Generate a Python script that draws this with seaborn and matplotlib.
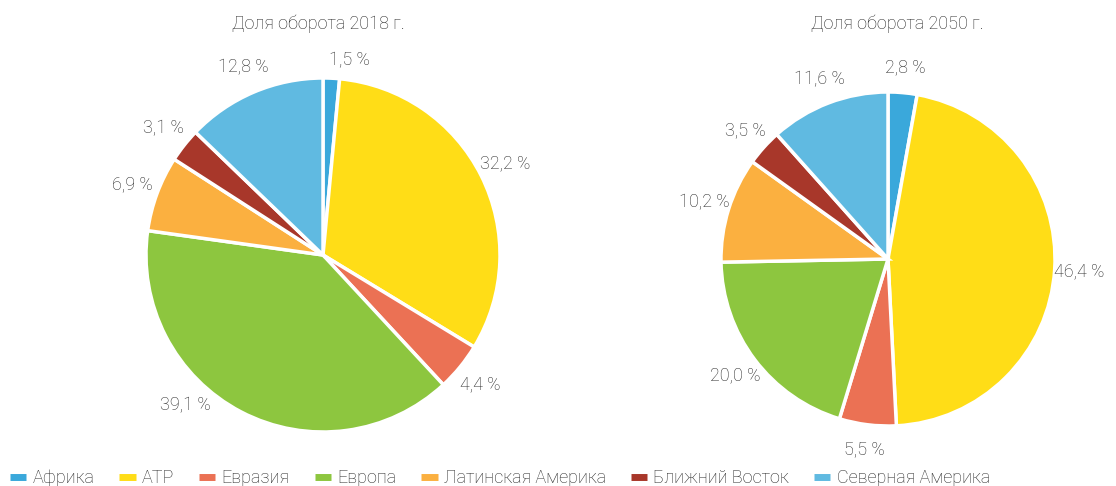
import matplotlib
matplotlib.use("Agg")
import matplotlib.pyplot as plt
import seaborn as sns
import numpy as np
from matplotlib.lines import Line2D

regions = ["Африка", "АТР", "Евразия", "Европа", "Латинская Америка",
           "Ближний Восток", "Северная Америка"]
share_2018 = [1.5, 32.2, 4.4, 39.1, 6.9, 3.1, 12.8]
share_2050 = [2.8, 46.4, 5.5, 20.0, 10.2, 3.5, 11.6]
titles = ["Доля оборота 2018 г.", "Доля оборота 2050 г."]
colors = ["#3AA8DB", "#FFDD17", "#EB7154", "#8DC63F", "#FBB040", "#A8372A", "#60BAE1"]

sns.set_theme(style="white")
plt.rcParams['font.family'] = ['Roboto', 'DejaVu Sans']
plt.rcParams['font.weight'] = 'light'
TXT = '#262626'
W, H = 1116, 486
fig = plt.figure(figsize=(W / 100, H / 100), dpi=100)
palette = sns.color_palette(colors)


def fmt(v):
    return f"{v:.1f}".replace(".", ",") + " %"


# (centre x, centre y, radius, title x) in pixels, plus per-label angle nudges (deg, clockwise)
specs = [(323, 255, 177, 318), (888, 259, 167, 897)]
nudges = [[5, 0, 0, 15, 0, 0, 0], [0, 0, 0, 0, 0, 0, 0]]
for (cx, cy, r, tx), vals, title, nud in zip(specs, [share_2018, share_2050], titles, nudges):
    ax = fig.add_axes([(cx - r) / W, (H - cy - r) / H, 2 * r / W, 2 * r / H])
    wedges, _ = ax.pie(vals, colors=palette, startangle=90, counterclock=False,
                       wedgeprops=dict(edgecolor='white', linewidth=2.5))
    for w, v, n in zip(wedges, vals, nud):
        ang = np.deg2rad((w.theta1 + w.theta2) / 2 - n)
        d = 1.11 if v < 2 else 1.15
        ax.text(d * np.cos(ang), d * np.sin(ang), fmt(v), ha='center', va='center',
                fontsize=13, color=TXT)
    ax.set_xlim(-1, 1)
    ax.set_ylim(-1, 1)
    fig.text(tx / W, 1 - 24 / H, title, ha='center', va='center', fontsize=13, color=TXT)

handles = [Line2D([0], [0], color=c, lw=5, solid_capstyle='butt') for c in palette]
fig.legend(handles, regions, loc='center', bbox_to_anchor=(500 / W, 8 / H), ncol=7,
           frameon=False, handlelength=0.9, columnspacing=1.38, handletextpad=0.35,
           fontsize=13, labelcolor=TXT, borderpad=0, borderaxespad=0)

fig.savefig("out.png", dpi=100)
